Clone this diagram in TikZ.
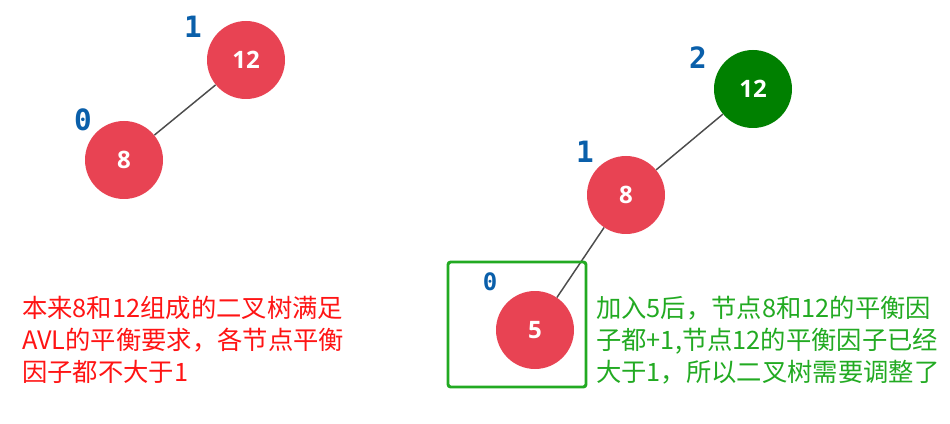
\documentclass[tikz,border=0pt]{standalone}
\usepackage{fontspec}
\newfontfamily\cjk{Noto Sans CJK SC}
\newfontfamily\keyfont{Open Sans}
\newfontfamily\bffont{DejaVu Sans Mono}
\definecolor{nodered}{RGB}{232,67,83}
\definecolor{nodegreen}{RGB}{0,128,0}
\definecolor{factorblue}{RGB}{10,95,170}
\definecolor{notered}{RGB}{255,20,20}
\definecolor{notegreen}{RGB}{34,170,34}

\begin{document}
\begin{tikzpicture}[
    x=0.75pt, y=-0.75pt,
    key/.style={circle, minimum size=58.5pt, inner sep=0pt, fill=nodered, text=white, font=\keyfont\bfseries\fontsize{18}{20}\selectfont},
    heavy/.style={fill=nodegreen},
    factor/.style={text=factorblue, font=\bffont\bfseries\fontsize{22}{24}\selectfont, inner sep=0pt},
    note/.style={anchor=north west, align=left, inner sep=0pt, font=\cjk\fontsize{19}{24}\selectfont},
    link/.style={draw=black!70, line width=1.1pt}
]
\useasboundingbox (0,0) rectangle (950,424);

% before: 12 with left child 8
\node[key] (a12) at (246,60) {12};
\node[key] (a8) at (124,160) {8};
\node[factor] (fa12) at (193,27) {1};
\node[factor] (fa8) at (83,120) {0};
\draw[link] (a12) -- (a8);
\node[note, text=notered] (left) at (22,296) {本来8和12组成的二叉树满足\\AVL的平衡要求，各节点平衡\\因子都不大于1};

% after inserting 5
\node[key, heavy] (b12) at (753,89) {12};
\node[key] (b8) at (626,195) {8};
\node[key] (b5) at (535,330) {5};
\node[factor] (fb12) at (698,58) {2};
\node[factor] (fb8) at (585,152) {1};
\node[factor, font=\bffont\bfseries\fontsize{18}{20}\selectfont] (fb5) at (490,282) {0};
\draw[link] (b12) -- (b8);
\draw[link] (b8) -- (b5);
\draw[notegreen, line width=2.2pt, rounded corners=2pt] (448,262) rectangle (586,387);
\node[note, text=notegreen] (right) at (596,296) {加入5后，节点8和12的平衡因\\子都+1,节点12的平衡因子已经\\大于1，所以二叉树需要调整了};
\end{tikzpicture}
\end{document}
